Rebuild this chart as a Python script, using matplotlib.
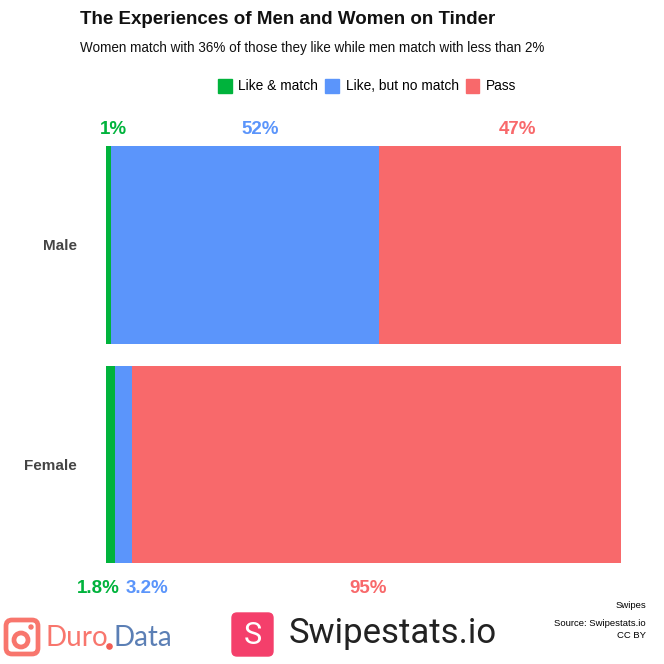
import numpy as np
import matplotlib
matplotlib.use("Agg")
import matplotlib.pyplot as plt
from matplotlib.patches import FancyBboxPatch, Circle

# ---- data ----
groups = ["Female", "Male"]
series = ["Like & match", "Like, but no match", "Pass"]
values = {
    "Male":   [1.0, 52.0, 47.0],
    "Female": [1.8, 3.2, 95.0],
}
labels = {
    "Male":   ["1%", "52%", "47%"],
    "Female": ["1.8%", "3.2%", "95%"],
}
colors = ["#00b33c", "#5b95fb", "#f8696b"]
# label nudges (x offset in percent units) so small labels don't collide
nudges = {
    "Male":   [1.0, 3.0, 3.5],
    "Female": [-2.3, 4.5, -1.5],
}

plt.rcParams["font.family"] = ["Liberation Sans", "DejaVu Sans"]

fig = plt.figure(figsize=(6.64, 6.64), dpi=100)
ax = fig.add_axes([0.1596, 0.152, 0.7756, 0.628])

bar_h = 0.9
for gi, g in enumerate(groups):
    left = 0.0
    for si, v in enumerate(values[g]):
        ax.barh(gi, v, left=left, height=bar_h, color=colors[si], linewidth=0)
        mid = left + v / 2 + nudges[g][si]
        if g == "Male":
            ax.text(mid, gi + bar_h / 2 + 0.035, labels[g][si], color=colors[si],
                    ha="center", va="bottom", fontsize=13.5, fontweight="bold")
        else:
            ax.text(mid, gi - bar_h / 2 - 0.075, labels[g][si], color=colors[si],
                    ha="center", va="top", fontsize=13.5, fontweight="bold")
        left += v

ax.set_xlim(0, 100)
ax.set_ylim(-0.45, 1.45)
ax.set_yticks(range(len(groups)))
ax.set_yticklabels(groups, fontsize=11, fontweight="bold", color="#444444")
ax.tick_params(axis="y", length=0, pad=21)
ax.set_xticks([])
for s in ax.spines.values():
    s.set_visible(False)

# titles
fig.text(80 / 664, 1 - 20 / 664, "The Experiences of Men and Women on Tinder",
         fontsize=13.5, fontweight="bold", color="#111111", va="center", ha="left")
fig.text(80 / 664, 1 - 48 / 664,
         "Women match with 36% of those they like while men match with less than 2%",
         fontsize=9.75, color="#111111", va="center", ha="left")

# legend
handles = [plt.Rectangle((0, 0), 1, 1, color=c) for c in colors]
fig.legend(handles, series, loc="center", bbox_to_anchor=(0.553, 1 - 86 / 664),
           ncol=3, frameon=False, fontsize=9.9, handlelength=1.0, handleheight=1.2,
           handletextpad=0.5, columnspacing=0.5)

# caption
fig.text(646 / 664, 1 - 605 / 664, "Swipes", fontsize=6.8, ha="right", va="center")
fig.text(646 / 664, 1 - 624 / 664, "Source: Swipestats.io", fontsize=6.8, ha="right", va="center")
fig.text(646 / 664, 1 - 635 / 664, "CC BY", fontsize=6.8, ha="right", va="center")

# Duro.Data logo
la = fig.add_axes([0, 0, 1, 1], facecolor="none")
la.set_xlim(0, 664)
la.set_ylim(664, 0)
la.axis("off")
la.add_patch(FancyBboxPatch((6, 620), 32, 34, boxstyle="round,pad=0,rounding_size=6",
                            fill=False, ec="#f8766d", lw=3.4))
la.add_patch(Circle((21, 640), 7, fill=False, ec="#f8766d", lw=3.4))
la.add_patch(Circle((31, 627), 2.0, color="#f8766d"))
la.text(45, 638, "Duro", fontsize=20, color="#f8766d", va="center", ha="left",
        family="Lato")
la.add_patch(Circle((109.5, 646.5), 2.6, color="#f25c54"))
la.text(113, 638, "Data", fontsize=20, color="#5b7fb5", va="center", ha="left",
        family="Lato")

# Swipestats logo
la.add_patch(FancyBboxPatch((232, 613), 41, 43, boxstyle="round,pad=0,rounding_size=5",
                            color="#f43f6b"))
la.text(252.5, 635, "S", fontsize=22, color="white", va="center", ha="center", family="Roboto")
la.text(289, 634, "Swipestats.io", fontsize=25, color="#222222", va="center", ha="left",
        family="Roboto")

fig.savefig("out.png", dpi=100, facecolor="white")
